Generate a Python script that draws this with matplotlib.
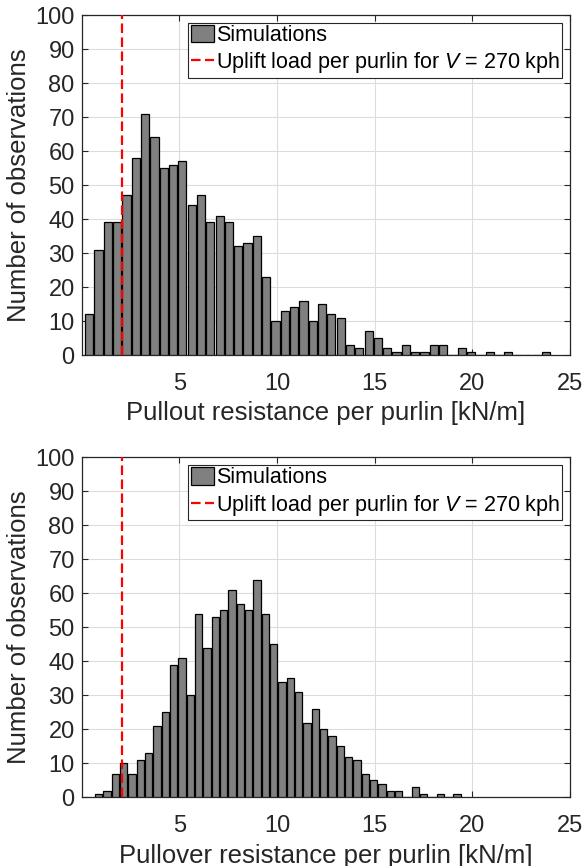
import numpy as np
import matplotlib
matplotlib.use("Agg")
import matplotlib.pyplot as plt

plt.rcParams['font.family'] = ['Liberation Sans', 'DejaVu Sans']
plt.rcParams['mathtext.fontset'] = 'custom'
plt.rcParams['mathtext.it'] = 'Liberation Sans:italic'
plt.rcParams['mathtext.rm'] = 'Liberation Sans'

# Pullout resistance histogram (top)
pullout_first_center = 0.389
pullout_bin_width = 0.4768
pullout_counts = [12, 31, 39, 39, 47, 58, 71, 64, 55, 56,
                  57, 44, 47, 39, 41, 39, 32, 33, 35, 23,
                  10, 13, 14, 16, 10, 15, 12, 11, 3, 2,
                  7, 5, 2, 1, 3, 1, 1, 3, 3, 0,
                  2, 1, 0, 1, 0, 1, 0, 0, 0, 1]

# Pullover resistance histogram (bottom)
pullover_first_center = 0.875
pullover_bin_width = 0.4266
pullover_counts = [1, 2, 7, 10, 7, 11, 13, 21, 25, 39,
                   41, 30, 54, 44, 53, 55, 61, 57, 55, 64,
                   54, 45, 34, 35, 31, 22, 26, 20, 18, 15,
                   12, 11, 7, 5, 4, 2, 2, 0, 3, 1,
                   0, 1, 0, 1]

uplift_load = 2.07
xlabels = ["Pullout resistance per purlin [kN/m]", "Pullover resistance per purlin [kN/m]"]
ylabel = "Number of observations"
legend_labels = ["Simulations", r"Uplift load per purlin for $V$ = 270 kph"]
xticks = [5, 10, 15, 20, 25]
yticks = list(range(0, 101, 10))

W, H = 584, 866
fig = plt.figure(figsize=(W / 100, H / 100), dpi=100)

axcol = '#262626'
ax_left = 81.6 / W
ax_w = (570 - 81.6) / W
ax_h = 340 / H
axes_specs = [1 - 355 / H, 1 - 797.3 / H]

datasets = [(pullout_first_center, pullout_bin_width, pullout_counts),
            (pullover_first_center, pullover_bin_width, pullover_counts)]

for i, (c0, bw, counts) in enumerate(datasets):
    ax = fig.add_axes([ax_left, axes_specs[i], ax_w, ax_h])
    centers = c0 + bw * np.arange(len(counts))
    bars = ax.bar(centers, counts, width=bw * 0.88, color='#808080',
                  edgecolor='black', linewidth=0.9, zorder=3)
    line = ax.axvline(uplift_load, color='red', linestyle=(0, (4.3, 2.0)), linewidth=1.6,
                      zorder=4)
    ax.set_xlim(0, 25)
    ax.set_ylim(0, 100)
    ax.set_xticks(xticks)
    ax.set_yticks(yticks)
    ax.grid(True, color='#dcdcdc', linewidth=0.8, zorder=0)
    ax.set_axisbelow(True)
    ax.tick_params(direction='in', top=True, right=True, length=4, width=0.8,
                   colors=axcol, labelsize=17, labelcolor=axcol)
    ax.tick_params(axis='x', pad=13)
    ax.tick_params(axis='y', pad=5)
    for sp in ax.spines.values():
        sp.set_color(axcol)
        sp.set_linewidth(0.9)
    ax.set_xlabel(xlabels[i], fontsize=18.5, color=axcol, labelpad=4.5)
    ax.set_ylabel(ylabel, fontsize=18.5, color=axcol, labelpad=3)
    leg = ax.legend([bars, line], legend_labels, loc='upper right', fontsize=15.5,
                    frameon=True, fancybox=False, edgecolor=axcol, framealpha=1,
                    borderpad=0.12, handlelength=1.07, handleheight=0.85,
                    handletextpad=0.08, labelspacing=0.2, borderaxespad=0.35)
    leg.get_frame().set_linewidth(0.8)

fig.savefig("out.png", dpi=100)
